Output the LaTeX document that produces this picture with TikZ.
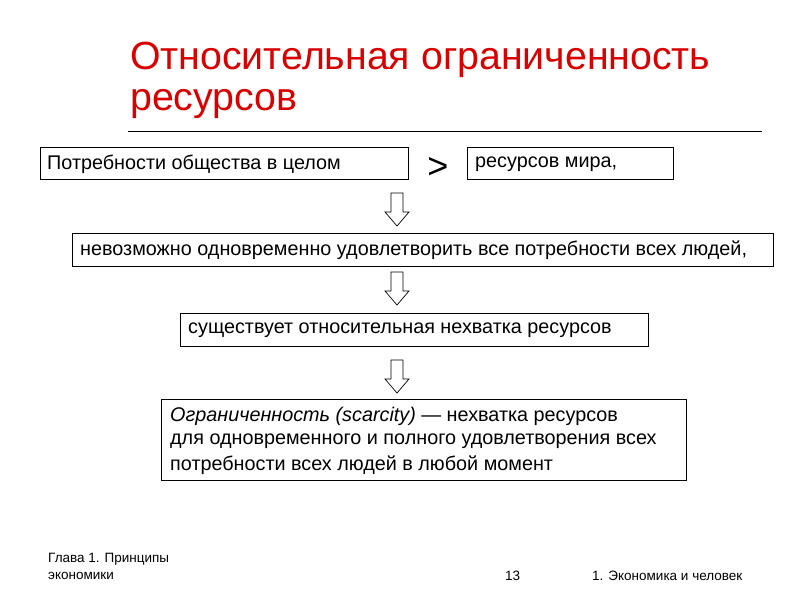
\documentclass[tikz,border=0pt]{standalone}
\usepackage{fontspec}
\setmainfont{Liberation Sans}
\begin{document}
\begin{tikzpicture}[x=1pt,y=-1pt,
  box/.style={draw,line width=0.8pt,anchor=north west,inner sep=0pt,minimum height=32pt},
  txt/.style={anchor=west,inner sep=0pt,font=\fontsize{19.8}{22}\selectfont},
  foot/.style={anchor=west,inner sep=0pt,font=\fontsize{13.5}{15}\selectfont}]
\useasboundingbox (0,0) rectangle (800,600);
\fill[white] (0,0) rectangle (800,600);
\node[anchor=west,inner sep=0pt,text=red!85!black,font=\fontsize{39.3}{44}\selectfont] (t1) at (130,60) {Относительная ограниченность};
\node[anchor=west,inner sep=0pt,text=red!85!black,font=\fontsize{39.3}{44}\selectfont] (t2) at (130,104) {ресурсов};
\draw[line width=0.8pt] (128,131) -- (762,131);
\node[box,minimum width=368pt] (b1) at (40,147) {};
\node[txt] at (47,164) {Потребности общества в целом};
\node[inner sep=0pt,font=\fontsize{36}{36}\selectfont] (gt) at (438,168) {>};
\node[box,minimum width=206pt] (b2) at (467,147) {};
\node[txt] at (475,164) {ресурсов мира,};
\node[box,minimum width=701pt,minimum height=33pt] (b3) at (72,233) {};
\node[txt] at (80,250) {невозможно одновременно удовлетворить все потребности всех людей,};
\node[box,minimum width=468pt,minimum height=33pt] (b4) at (180,313) {};
\node[txt] at (188,330) {существует относительная нехватка ресурсов};
\node[box,minimum width=525pt,minimum height=81pt] (b5) at (161,399) {};
\node[txt] at (170,416) {\textit{Ограниченность (scarcity)} — нехватка ресурсов};
\node[txt] at (170,441) {для одновременного и полного удовлетворения всех};
\node[txt] at (170,465) {потребности всех людей в любой момент};
\foreach \y in {193,272,360}{
  \draw[line width=0.7pt,fill=white] (391,\y) -- (403,\y) -- (403,\y+19) -- (409,\y+19) -- (397,\y+33) -- (385,\y+19) -- (391,\y+19) -- cycle;
}
\node[foot] (f1) at (48,559) {Глава 1. Принципы};
\node[foot] (f2) at (48,576) {экономики};
\node[foot] (f3) at (505,576) {13};
\node[foot] (f4) at (592,576) {1. Экономика и человек};
\end{tikzpicture}
\end{document}
